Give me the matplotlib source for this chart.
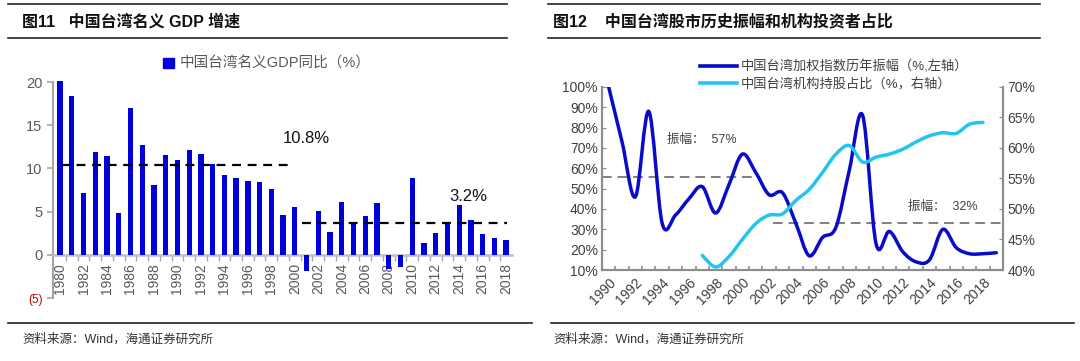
import numpy as np
import matplotlib
matplotlib.use("Agg")
import matplotlib.pyplot as plt
from matplotlib.path import Path
from matplotlib.patches import PathPatch
from matplotlib.lines import Line2D
from matplotlib.patches import Patch

plt.rcParams['font.family'] = ['Liberation Sans', 'Noto Sans CJK SC', 'DejaVu Sans']

# ---- data: left panel (nominal GDP growth, %) ----
gdp_years = list(range(1980, 2019))
gdp_yoy = [20.1, 18.4, 7.2, 11.9, 11.4, 4.8, 17.0, 12.7, 8.1, 11.5,
           11.0, 12.1, 11.7, 10.5, 9.2, 8.9, 8.5, 8.4, 7.6, 4.6,
           5.5, -1.9, 5.1, 2.6, 6.1, 3.8, 4.5, 6.0, -1.7, -1.4,
           8.9, 1.4, 2.5, 3.7, 5.8, 4.0, 2.4, 1.9, 1.7]
avg_early = 10.4
avg_late = 3.7

# ---- data: right panel ----
mkt_years = list(range(1990, 2020))
amplitude = [100, 73, 46, 88, 33, 37, 45, 51, 38, 52,
             67, 58, 47, 48, 33, 17, 26, 31, 59, 86,
             23, 29, 19, 14, 15, 30, 21, 18, 18, 18.5]
inst_years = list(range(1997, 2019))
inst_share = [42.4, 40.5, 42.2, 45.0, 47.6, 49.0, 49.2, 51.4, 53.2, 56.0,
              59.0, 60.4, 57.7, 58.5, 59.0, 59.8, 61.0, 62.0, 62.5, 62.4,
              63.9, 64.2]
amp_early = 55.7
amp_late = 33.3

GREY = '#7f7f7f'
TXT = '#404040'


def smooth_path(x, y):
    # excel-like smoothed line: catmull-rom as cubic bezier
    x = np.asarray(x, float)
    y = np.asarray(y, float)
    verts = [(x[0], y[0])]
    codes = [Path.MOVETO]
    n = len(x)
    for i in range(n - 1):
        x0, y0 = (x[i - 1], y[i - 1]) if i > 0 else (x[i], y[i])
        x3, y3 = (x[i + 2], y[i + 2]) if i + 2 < n else (x[i + 1], y[i + 1])
        c1 = (x[i] + (x[i + 1] - x0) / 6, y[i] + (y[i + 1] - y0) / 6)
        c2 = (x[i + 1] - (x3 - x[i]) / 6, y[i + 1] - (y3 - y[i]) / 6)
        verts += [c1, c2, (x[i + 1], y[i + 1])]
        codes += [Path.CURVE4] * 3
    return Path(verts, codes)


fig = plt.figure(figsize=(10.8, 3.61), dpi=100)

# ---- frames / titles ----
for x0, x1 in [(8, 507), (548, 1040)]:
    for yy in (4, 38):
        fig.add_artist(Line2D([x0 / 1080, x1 / 1080], [1 - yy / 361] * 2,
                              color='#222222', lw=1.2))
for x0, x1 in [(8, 532), (551, 1074)]:
    fig.add_artist(Line2D([x0 / 1080, x1 / 1080], [1 - 323 / 361] * 2,
                          color='#222222', lw=1.2))

fig.text(22 / 1080, 1 - 22 / 361, '图11   中国台湾名义 GDP 增速', fontsize=11.5,
         fontweight='bold', va='center', color='#111111')
fig.text(553 / 1080, 1 - 22 / 361, '图12    中国台湾股市历史振幅和机构投资者占比',
         fontsize=11.5, fontweight='bold', va='center', color='#111111')
fig.text(22 / 1080, 1 - 339 / 361, '资料来源：Wind，海通证券研究所', fontsize=9,
         va='center', color='#333333')
fig.text(553 / 1080, 1 - 339 / 361, '资料来源：Wind，海通证券研究所', fontsize=9,
         va='center', color='#333333')

# ---- left panel ----
ax = fig.add_axes([53 / 1080, 1 - 298 / 361, 459 / 1080, 216 / 361])
idx = np.arange(len(gdp_years))
ax.bar(idx, gdp_yoy, width=0.45, color='#0000d8', clip_on=False, zorder=3)
ax.set_xlim(-0.6, 38.5)
ax.set_ylim(-5, 20)
for s in ('top', 'right'):
    ax.spines[s].set_visible(False)
ax.spines['left'].set_color('#a6a6a6')
ax.spines['left'].set_linewidth(1.5)
ax.spines['bottom'].set_position(('data', 0))
ax.spines['bottom'].set_color('#c0c0c0')
ax.spines['bottom'].set_linewidth(1.8)
ax.set_yticks([-5, 0, 5, 10, 15, 20])
ax.set_yticklabels(['(5)', '0', '5', '10', '15', '20'])
ax.tick_params(axis='y', colors='#a6a6a6', labelcolor='#595959', labelsize=10.5,
               length=4, width=1.2)
ax.get_yticklabels()[0].set_color('#c00000')
ax.get_yticklabels()[0].set_fontsize(8.5)
ax.set_xticks(idx[::2])
ax.set_xticklabels([str(y) for y in gdp_years[::2]], rotation=90,
                   fontsize=10, color='#595959')
ax.set_xticks(idx[:-1] + 0.5, minor=True)
ax.tick_params(axis='x', which='major', length=0, pad=6)
ax.tick_params(axis='x', which='minor', length=4, color='#a6a6a6', width=1)

ax.plot([0.1, 19.8], [avg_early, avg_early], color='black', lw=1.6,
        ls=(0, (4, 3)), zorder=4)
ax.plot([20.6, 38.1], [avg_late, avg_late], color='black', lw=1.6,
        ls=(0, (4, 3)), zorder=4)
ax.text(21.0, 13.5, '10.8%', fontsize=12, ha='center', va='center',
        color='#111111')
ax.text(34.75, 6.8, '3.2%', fontsize=12, ha='center', va='center',
        color='#111111')
ax.legend(handles=[Patch(color='#0000d8', label='中国台湾名义GDP同比（%）')],
          loc='center', bbox_to_anchor=(0.466, 1.083), frameon=False,
          fontsize=10.5, handlelength=0.7, handleheight=0.7, handletextpad=0.4,
          labelcolor='#595959')

# ---- right panel ----
ax1 = fig.add_axes([602 / 1080, 1 - 270 / 361, 401 / 1080, 183 / 361])
ax2 = ax1.twinx()
ax1.set_xlim(1989.5, 2019.5)
ax1.set_ylim(10, 100)
ax2.set_ylim(40, 70)

ax1.add_patch(PathPatch(smooth_path(mkt_years, amplitude), fill=False,
                        edgecolor='#0a0ac8', lw=2.5, capstyle='round',
                        joinstyle='round', zorder=4))
ax2.add_patch(PathPatch(smooth_path(inst_years, inst_share), fill=False,
                        edgecolor='#22c4f0', lw=2.5, capstyle='round',
                        joinstyle='round', zorder=4))

ax1.plot([1989.5, 2001.3], [amp_early, amp_early], color=GREY, lw=1.4,
         ls=(0, (5, 3)), zorder=3)
ax1.plot([2002.3, 2019.5], [amp_late, amp_late], color=GREY, lw=1.4,
         ls=(0, (5, 3)), zorder=3)
ax1.text(1997.0, 74, '振幅：  57%', fontsize=9, ha='center', va='center',
         color='#404040')
ax1.text(2015.0, 41, '振幅：  32%', fontsize=9, ha='center', va='center',
         color='#404040')

ax1.set_yticks(range(10, 101, 10))
ax1.set_yticklabels([f'{v}%' for v in range(10, 101, 10)])
ax2.set_yticks(range(40, 71, 5))
ax2.set_yticklabels([f'{v}%' for v in range(40, 71, 5)])
ax1.set_xticks(mkt_years[::2])
ax1.set_xticklabels([str(y) for y in mkt_years[::2]], rotation=45, ha='right',
                    rotation_mode='anchor')
ax1.set_xticks(np.arange(1989.5, 2019.6, 1), minor=True)
for a in (ax1, ax2):
    a.spines['top'].set_visible(False)
    for s in ('left', 'right', 'bottom'):
        a.spines[s].set_color('#8c8c8c')
        a.spines[s].set_linewidth(1.5)
ax1.tick_params(axis='y', direction='in', length=3, colors='#8c8c8c',
                labelcolor=TXT, labelsize=10, pad=3)
ax2.tick_params(axis='y', direction='in', length=3, colors='#8c8c8c',
                labelcolor=TXT, labelsize=10, pad=3)
ax1.tick_params(axis='x', which='major', length=0, labelcolor=TXT,
                labelsize=10, pad=4)
ax1.tick_params(axis='x', which='minor', direction='in', length=3,
                color='#8c8c8c', width=1.2)

handles = [Line2D([], [], color='#0a0ac8', lw=2.6),
           Line2D([], [], color='#22c4f0', lw=2.6)]
labels = ['中国台湾加权指数历年振幅（%,左轴）', '中国台湾机构持股占比（%，右轴）']
fig.legend(handles, labels, loc='upper left',
           bbox_to_anchor=(688 / 1080, 1 - 49 / 361), frameon=False,
           fontsize=9.5, handlelength=2.8, handletextpad=0.3,
           labelspacing=0.3, labelcolor='#404040')

fig.savefig('out.png', dpi=100)
